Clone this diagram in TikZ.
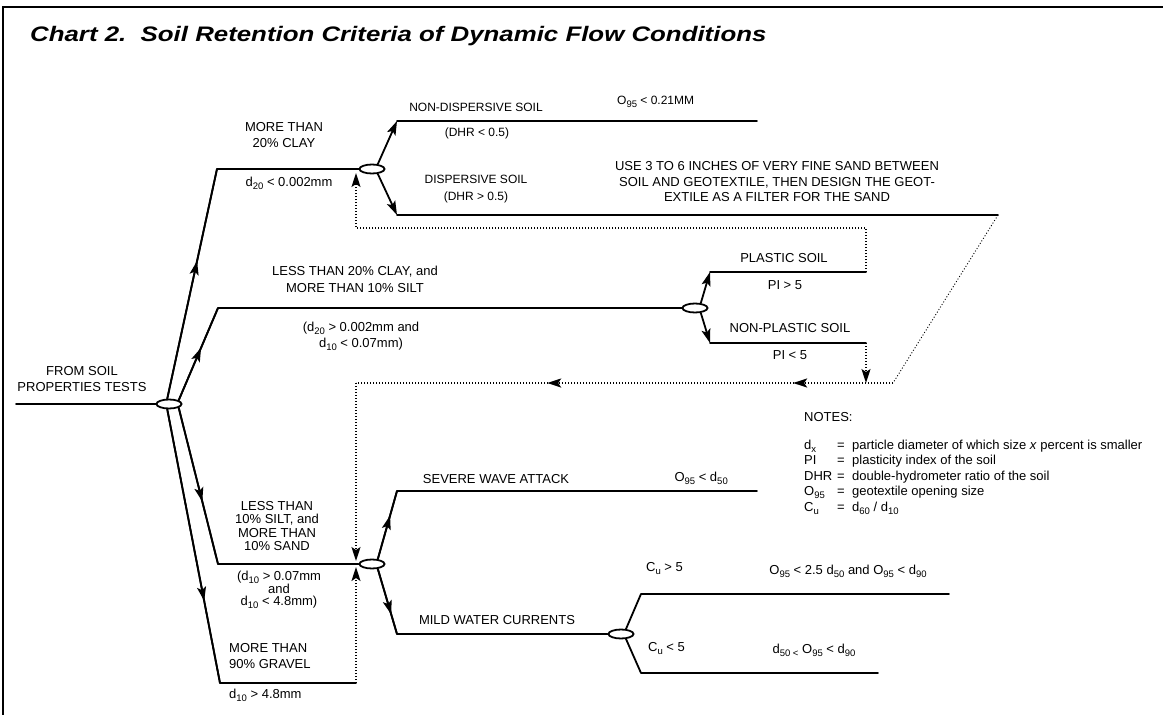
\documentclass[tikz,border=0pt]{standalone}
\usepackage{fontspec}
\setmainfont{Liberation Sans}
\usetikzlibrary{arrows.meta,decorations.markings,shapes.geometric}
\newcommand\sbs[1]{\raisebox{-3pt}{\fontsize{9.5}{9.5}\selectfont #1}}
\begin{document}
\begin{tikzpicture}[x=1pt,y=-1pt,
  main/.style={line width=1.8pt, line cap=round, line join=round},
  dots/.style={line width=1.6pt, dash pattern=on 1.4pt off 1.6pt},
  thindots/.style={line width=0.9pt, dash pattern=on 1pt off 2pt},
  tip/.style={-{Stealth[length=14pt,width=9pt,inset=3pt]}},
  lbl/.style={font=\fontsize{13}{16}\selectfont, inner sep=0pt, align=center},
  sml/.style={font=\fontsize{12}{14}\selectfont, inner sep=0pt, align=center},
  junc/.style={ellipse, draw, line width=1.8pt, fill=white, minimum width=25pt, minimum height=9pt, inner sep=0pt},
  midarrow/.style={postaction={decorate}, decoration={markings, mark=at position #1 with {\arrow{Stealth[length=14pt,width=9pt,inset=3pt]}}}},
  twoarrows/.style 2 args={postaction={decorate}, decoration={markings,
     mark=at position #1 with {\arrow{Stealth[length=14pt,width=9pt,inset=3pt]}},
     mark=at position #2 with {\arrow{Stealth[length=14pt,width=9pt,inset=3pt]}}}}
]
\useasboundingbox (0,0) rectangle (1163,715);
% frame
\draw[line width=2pt] (1163,7) -- (3,7) -- (3,715);
% title
\node[anchor=west, inner sep=0pt, font=\fontsize{21}{24}\selectfont\bfseries\itshape] (title) at (30,36) {\scalebox{1.23}[1]{Chart 2.\ \ Soil Retention Criteria of Dynamic Flow Conditions}};

% junctions
\node[junc] (E0) at (169,404) {};
\node[junc] (E1) at (372,169) {};
\node[junc] (E2) at (695,308) {};
\node[junc] (E3) at (372,564) {};
\node[junc] (E4) at (621,634) {};

% coordinates
\coordinate (r0) at (16,404);
\coordinate (a1) at (217,169);
\coordinate (a2) at (218,308);
\coordinate (a3) at (218,564);
\coordinate (a4) at (220,683);
\coordinate (a4e) at (356,683);
\coordinate (nd1) at (397,121); \coordinate (nd2) at (757,121);
\coordinate (ds1) at (397,215); \coordinate (ds2) at (998,215);
\coordinate (pl1) at (710,272); \coordinate (pl2) at (866,272);
\coordinate (np1) at (710,343); \coordinate (np2) at (866,343);
\coordinate (q1) at (866,228); \coordinate (q2) at (356,228); \coordinate (q3) at (356,173);
\coordinate (s1) at (893,383); \coordinate (s2) at (356,383); \coordinate (s3) at (356,561);
\coordinate (npd) at (866,383);
\coordinate (g1) at (356,567);
\coordinate (sw1) at (397,491); \coordinate (sw2) at (757,491);
\coordinate (mw1) at (397,634);
\coordinate (c51) at (641,594); \coordinate (c52) at (949,594);
\coordinate (c41) at (641,673); \coordinate (c42) at (878,673);

% root
\draw[main] (r0) -- (E0.west);
% main branches
\draw[main] (E0.108) -- (a1) -- (E1.west);
\draw[main, midarrow=0.6] (E0.108) -- (a1);
\draw[main] (E0.21) -- (a2) -- (E2.west);
\draw[main, midarrow=0.57] (E0.21) -- (a2);
\draw[main] (E0.-21) -- (a3) -- (E3.west);
\draw[main, midarrow=0.6] (E0.-21) -- (a3);
\draw[main] (E0.-108) -- (a4) -- (a4e);
\draw[main, midarrow=0.7] (E0.-108) -- (a4);

% clay branches
\draw[main, tip] (E1.40) -- (nd1);
\draw[main] (nd1) -- (nd2);
\draw[main, tip] (E1.-40) -- (ds1);
\draw[main] (ds1) -- (ds2);

% silt branches
\draw[main, tip] (E2.40) -- (pl1);
\draw[main] (pl1) -- (pl2);
\draw[main, tip] (E2.-40) -- (np1);
\draw[main] (np1) -- (np2);

% dotted returns
\draw[dots, tip] (pl2) -- (q1) -- (q2) -- (q3);
\draw[dots, tip] (np2) -- (npd);
\draw[thindots] (ds2) -- (s1);
\draw[dots, twoarrows={0.186}{0.644}] (s1) -- (s2);
\draw[dots, tip] (s2) -- (s3);
\draw[dots, tip] (a4e) -- (g1);

% sand branches
\draw[main] (E3.40) -- (sw1) -- (sw2);
\draw[main, midarrow=0.64] (E3.40) -- (sw1);
\draw[main] (E3.-40) -- (mw1) -- (E4.west);
\draw[main, midarrow=0.7] (E3.-40) -- (mw1);
\draw[main] (E4.45) -- (c51) -- (c52);
\draw[main] (E4.-45) -- (c41) -- (c42);

% labels
\node[lbl, font=\fontsize{13}{16.5}\selectfont] (lroot) at (82,379) {FROM SOIL\\PROPERTIES TESTS};
\node[lbl] (lclay) at (284,135) {MORE THAN\\20\% CLAY};
\node[lbl] (lclayc) at (289,183) {d\sbs{20} < 0.002mm};
\node[sml] (lnd) at (476,107) {NON-DISPERSIVE SOIL};
\node[sml] (lndc) at (477,133) {(DHR < 0.5)};
\node[sml, anchor=west] (lndr) at (617,102) {O\sbs{95} < 0.21MM};
\node[sml] (lds) at (476,179) {DISPERSIVE SOIL};
\node[sml] (ldsc) at (476,197) {(DHR > 0.5)};
\node[lbl, font=\fontsize{13}{15.5}\selectfont] (ldsr) at (777,182) {USE 3 TO 6 INCHES OF VERY FINE SAND BETWEEN\\SOIL AND GEOTEXTILE, THEN DESIGN THE GEOT-\\EXTILE AS A FILTER FOR THE SAND};
\node[lbl, font=\fontsize{13}{17}\selectfont] (lsilt) at (355,279) {LESS THAN 20\% CLAY, and\\MORE THAN 10\% SILT};
\node[lbl] (lsiltc) at (361,336) {(d\sbs{20} > 0.002mm and\\d\sbs{10} < 0.07mm)};
\node[lbl] (lpl) at (784,258) {PLASTIC SOIL};
\node[lbl] (lplc) at (785,285) {PI > 5};
\node[lbl] (lnp) at (790,328) {NON-PLASTIC SOIL};
\node[lbl] (lnpc) at (790,355) {PI < 5};
\node[lbl, font=\fontsize{13}{13.5}\selectfont] (lsand) at (277,526) {LESS THAN\\10\% SILT, and\\MORE THAN\\10\% SAND};
\node[lbl, font=\fontsize{13}{12}\selectfont] (lsandc) at (279,590) {(d\sbs{10} > 0.07mm\\and\\d\sbs{10} < 4.8mm)};
\node[lbl, anchor=west, align=left] (lgrav) at (229,656) {MORE THAN\\90\% GRAVEL};
\node[lbl, anchor=west] (lgravc) at (229,695) {d\sbs{10} > 4.8mm};
\node[lbl] (lsw) at (496,479) {SEVERE WAVE ATTACK};
\node[lbl, anchor=east] (lswr) at (728,478) {O\sbs{95} < d\sbs{50}};
\node[lbl] (lmw) at (497,620) {MILD WATER CURRENTS};
\node[lbl, anchor=west] (lcu1) at (646,569) {C\sbs{u} > 5};
\node[lbl] (lcu1r) at (848,571) {O\sbs{95} < 2.5 d\sbs{50} and O\sbs{95} < d\sbs{90}};
\node[lbl, anchor=west] (lcu2) at (648,649) {C\sbs{u} < 5};
\node[lbl] (lcu2r) at (814,650) {d\sbs{50 <} O\sbs{95} < d\sbs{90}};

% notes
\node[lbl, anchor=west] (lnotes) at (804,417) {NOTES:};
\node[anchor=north west, inner sep=0pt, font=\fontsize{13}{15.5}\selectfont] (notes) at (804,438) {%
\begin{tabular}{@{}p{33pt}@{}p{15pt}@{}l@{}}
d\sbs{x} & = & particle diameter of which size \textit{x} percent is smaller\\
PI & = & plasticity index of the soil\\
DHR & = & double-hydrometer ratio of the soil\\
O\sbs{95} & = & geotextile opening size\\
C\sbs{u} & = & d\sbs{60} / d\sbs{10}
\end{tabular}};
\end{tikzpicture}
\end{document}
